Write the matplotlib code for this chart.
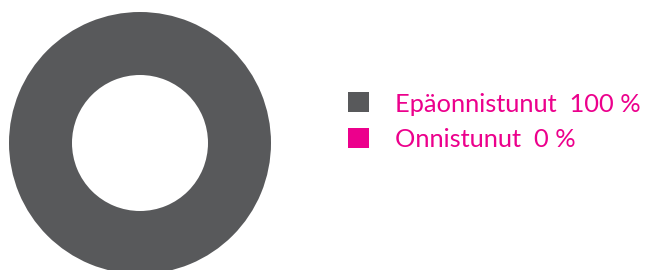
import matplotlib
matplotlib.use("Agg")
import matplotlib.pyplot as plt
from matplotlib.patches import Rectangle

categories = ["Epäonnistunut", "Onnistunut"]
values = [100, 0]
colors = ["#58595B", "#EC008C"]
text_color = "#EC008C"

W, H = 649, 270
fig = plt.figure(figsize=(W / 100, H / 100), dpi=100)

# pie axes: centre (140,143) px from top-left, radius 131 px
cx, cy, r = 140, 143, 131
ax = fig.add_axes([(cx - r) / W, (H - cy - r) / H, 2 * r / W, 2 * r / H])
ax.pie(values, colors=colors, radius=1, startangle=90, counterclock=False,
       wedgeprops=dict(width=1 - 68 / 131, linewidth=0))
ax.set_xlim(-1, 1)
ax.set_ylim(-1, 1)
ax.set_aspect("equal")
ax.axis("off")

# legend drawn manually
row_tops = [92, 128]
baselines = [112, 147]
for i, (cat, val, col) in enumerate(zip(categories, values, colors)):
    fig.add_artist(Rectangle((348 / W, (H - row_tops[i] - 20) / H), 21 / W, 20 / H,
                             transform=fig.transFigure, facecolor=col, edgecolor="none"))
    fig.text(395 / W, (H - baselines[i]) / H, f"{cat}  {val} %", color=text_color,
             fontsize=18.3, family="Lato", fontweight=400, va="baseline", ha="left")

fig.savefig("out.png", dpi=100)
